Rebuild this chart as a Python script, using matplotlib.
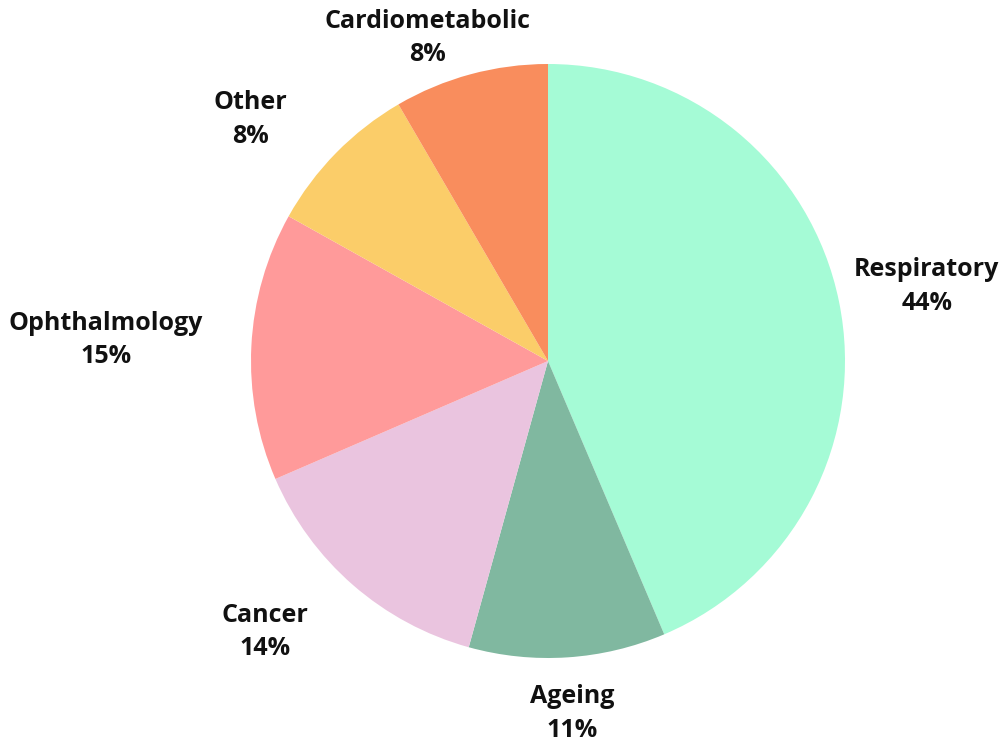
import matplotlib
matplotlib.use("Agg")
import matplotlib.pyplot as plt
import numpy as np

# slices, clockwise from 12 o'clock
categories = ["Respiratory", "Ageing", "Cancer", "Ophthalmology", "Other", "Cardiometabolic"]
values = [43.6, 10.7, 14.2, 14.6, 8.5, 8.4]
colors = ["#A5FBD6", "#80B8A0", "#EAC4DF", "#FF9A9A", "#FBCD69", "#F98D5D"]
# label placement: distance (pie radii) and angle nudge (deg) from slice middle
label_dist = [1.30, 1.19, 1.32, 1.49, 1.29, 1.16]
label_nudge = [-0.4, 0.1, -5.2, 0.15, 5.4, 5.3]

fig = plt.figure(figsize=(10.02, 7.45), dpi=100)
ax = fig.add_axes([0, 0, 1, 1])

wedges, _ = ax.pie(values, colors=colors, startangle=90, counterclock=False,
                   radius=1.0, center=(0, 0))

total = sum(values)
for w, name, v, d, n in zip(wedges, categories, values, label_dist, label_nudge):
	ang = np.deg2rad((w.theta1 + w.theta2) / 2 + n)
	pct = int(round(v / total * 100))
	ax.text(d * np.cos(ang), d * np.sin(ang), "%s\n%d%%" % (name, pct),
			ha="center", va="center", fontsize=18, fontweight="bold",
			family=["Open Sans", "DejaVu Sans"], color="#111111", linespacing=1.45)

r = 297.0
ax.set_xlim(-548 / r, (1002 - 548) / r)
ax.set_ylim(-(745 - 361) / r, 361 / r)
ax.set_aspect("equal")
ax.axis("off")

fig.savefig("out.png", dpi=100, facecolor="white")
